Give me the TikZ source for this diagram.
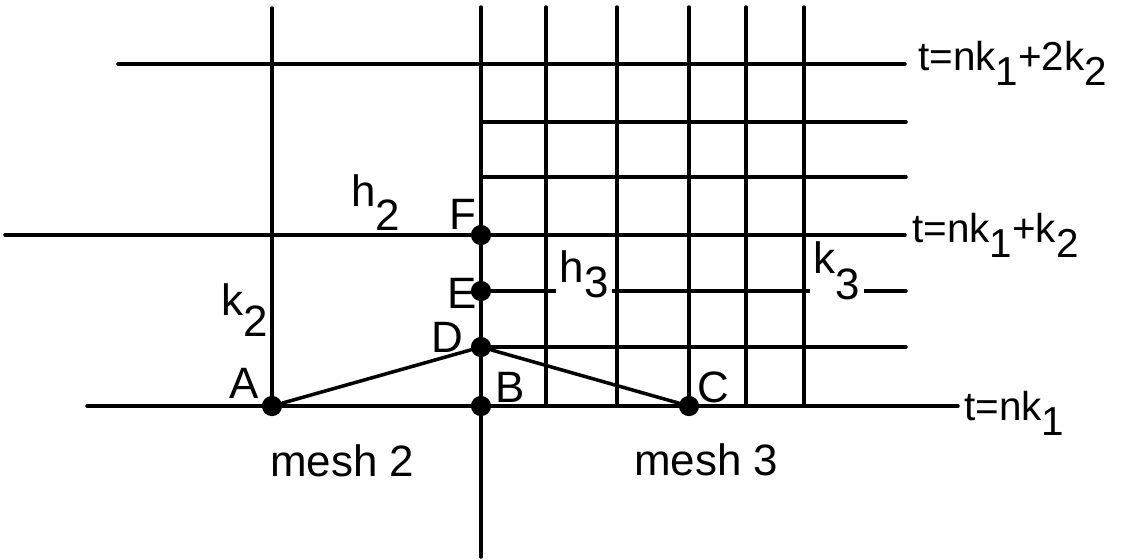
\documentclass[tikz,border=0pt]{standalone}
\usepackage{fontspec}
\setmainfont{Liberation Sans}
\usetikzlibrary{positioning}
\newcommand{\lo}[2][0.38em]{\raisebox{-#1}{#2}}
\tikzset{
  mline/.style={line width=2pt, line cap=round},
  pt/.style={circle, fill=black, inner sep=0pt, minimum size=11.5pt},
  lab/.style={font=\fontsize{25}{27}\selectfont, anchor=base west, inner sep=0pt},
  onl/.style={lab, fill=white, inner xsep=2pt, inner ysep=1pt},
  tlab/.style={font=\fontsize{23}{25}\selectfont, anchor=base west, inner sep=0pt},
}

\begin{document}
\begin{tikzpicture}[x=0.02cm, y=-0.02cm]
\useasboundingbox (0,0) rectangle (1125,559);

% ---------- mesh 2 (coarse) ----------
\draw[mline] (272,8) -- (272,406);
\draw[mline] (481,7) -- (481,557);
\draw[mline] (118,64) -- (905,64);
\draw[mline] (5,235) -- (905,235);
\draw[mline] (87,406) -- (958,406);

% ---------- mesh 3 (fine) ----------
\foreach \x in {546,617,689,746,804}
  \draw[mline] (\x,7) -- (\x,406);
\foreach \y in {122,177,291,347}
  \draw[mline] (481,\y) -- (906,\y);

% ---------- points ----------
\node[pt] (A) at (272,406) {};
\node[pt] (B) at (481,406) {};
\node[pt] (C) at (689,406) {};
\node[pt] (D) at (481,347) {};
\node[pt] (E) at (481,291) {};
\node[pt] (F) at (481,235) {};

\draw[mline] (A) -- (D) -- (C);

% ---------- labels ----------
\node[lab] (labA) at (229,398) {A};
\node[lab] (labB) at (495,402) {B};
\node[lab] (labC) at (697,402) {C};
\node[lab] (labD) at (431,352) {D};
\node[lab] (labE) at (447,308) {E};
\node[lab] (labF) at (449,229) {F};

\node[lab] (h2) at (351,206) {h\lo[0.55em]{2}};
\node[lab] (k2) at (221,315) {k\lo[0.5em]{2}};
\node[onl] (h3) at (556,282) {h\lo[0.35em]{3}};
\node[onl] (k3) at (810,273) {k\lo[0.6em]{3}};

\node[lab] (mesh2) at (270,476) {mesh 2};
\node[lab] (mesh3) at (634,475) {mesh 3};

\node[tlab] (t2) at (918,70) {t=nk\lo{1}+2k\lo{2}};
\node[tlab] (t1) at (912,242) {t=nk\lo{1}+k\lo{2}};
\node[tlab] (t0) at (964,420) {t=nk\lo{1}};

\end{tikzpicture}
\end{document}
